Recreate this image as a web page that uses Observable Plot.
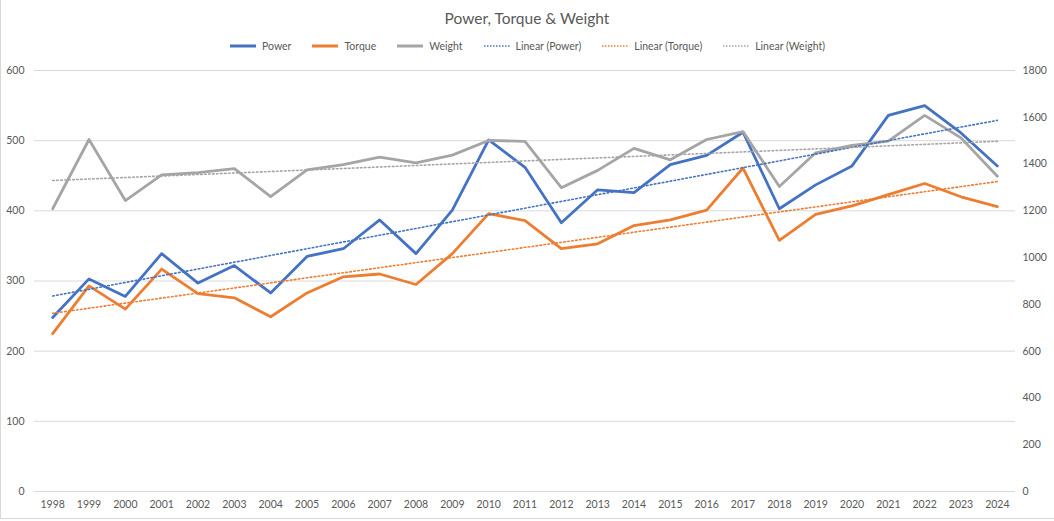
<!DOCTYPE html>
<html>
<head>
<meta charset="utf-8">
<script src="https://cdn.jsdelivr.net/npm/d3@7"></script>
<script src="https://cdn.jsdelivr.net/npm/@observablehq/plot@0.6"></script>
<style>
  html, body { margin: 0; padding: 0; background: #fff; }
  #wrap { position: relative; width: 1054px; height: 521px; overflow: hidden; font-family: Lato, "Open Sans", sans-serif; color: #595959; }
  #frame { position: absolute; left: 0; top: 0; width: 1054px; height: 519px; border-left: 1px solid #D9D9D9; border-bottom: 1px solid #D9D9D9; box-sizing: border-box; pointer-events: none; }
  #title { height: 36px; line-height: 36px; text-align: center; font-size: 15.5px; color: #595959; }
  #legend { height: 20px; display: flex; justify-content: center; align-items: center; font-size: 10.5px; color: #595959; }
  .item { display: flex; align-items: center; margin: 0 10px; }
  .item svg { margin-right: 5px; }
  #chart svg { display: block; }
</style>
</head>
<body>
<div id="wrap">
  <div id="title">Power, Torque &amp; Weight</div>
  <div id="legend"></div>
  <div id="chart"></div>
  <div id="frame"></div>
</div>
<script>
const years  = [1998,1999,2000,2001,2002,2003,2004,2005,2006,2007,2008,2009,2010,2011,2012,2013,2014,2015,2016,2017,2018,2019,2020,2021,2022,2023,2024];
const power  = [248,303,278,339,297,322,283,335,346,387,339,401,501,462,383,430,426,466,479,512,403,437,464,536,550,511,464];
const torque = [225,293,260,317,282,276,249,283,306,310,295,339,396,386,346,353,379,387,401,461,358,395,407,423,439,420,406];
const weight = [1209,1505,1244,1354,1363,1380,1261,1375,1398,1430,1405,1438,1501,1497,1299,1373,1467,1418,1505,1539,1304,1448,1480,1498,1608,1512,1348];
const leftTicks  = [0,100,200,300,400,500,600];
const rightTicks = [0,200,400,600,800,1000,1200,1400,1600,1800];

const colors = {power: "#4472C4", torque: "#ED7D31", weight: "#A5A5A5"};
const series = [
  {name: "Power", color: colors.power, dotted: false},
  {name: "Torque", color: colors.torque, dotted: false},
  {name: "Weight", color: colors.weight, dotted: false},
  {name: "Linear (Power)", color: colors.power, dotted: true},
  {name: "Linear (Torque)", color: colors.torque, dotted: true},
  {name: "Linear (Weight)", color: colors.weight, dotted: true}
];

const legend = document.getElementById("legend");
for (const s of series) {
  const item = document.createElement("div");
  item.className = "item";
  item.innerHTML = `<svg width="28" height="6"><line x1="1" x2="27" y1="3" y2="3" stroke="${s.color}" stroke-width="${s.dotted ? 1.5 : 3}" ${s.dotted ? 'stroke-dasharray="1.5,1.5"' : ''}/></svg><span>${s.name}</span>`;
  legend.appendChild(item);
}

const data = years.map((year, i) => ({year, power: power[i], torque: torque[i], weight: weight[i]}));
const ratio = 3; // right axis max 1800 vs left 600

const chart = Plot.plot({
  width: 1054,
  height: 463,
  marginLeft: 34,
  marginRight: 39,
  marginTop: 14,
  marginBottom: 28,
  style: {fontFamily: "Lato, 'Open Sans', sans-serif", fontSize: "10.5px", color: "#595959", background: "transparent"},
  x: {domain: [1997.5, 2024.5]},
  y: {domain: [0, 600]},
  marks: [
    Plot.gridY(leftTicks, {stroke: "#D9D9D9", strokeOpacity: 1, strokeWidth: 1}),
    Plot.axisY(leftTicks, {anchor: "left", tickSize: 0, tickPadding: 10, label: null, fill: "#595959"}),
    Plot.axisY(rightTicks.map(d => d / ratio), {anchor: "right", tickSize: 0, tickPadding: 7, label: null, fill: "#595959", textAnchor: "start", tickFormat: d => String(Math.round(d * ratio))}),
    Plot.axisX(years, {tickSize: 0, tickPadding: 9, label: null, fill: "#595959", tickFormat: d => String(d)}),
    Plot.lineY(data, {x: "year", y: "power", stroke: colors.power, strokeWidth: 2.8}),
    Plot.lineY(data, {x: "year", y: "torque", stroke: colors.torque, strokeWidth: 2.8}),
    Plot.lineY(data, {x: "year", y: d => d.weight / ratio, stroke: colors.weight, strokeWidth: 2.8}),
    Plot.linearRegressionY(data, {x: "year", y: "power", stroke: colors.power, ci: 0, strokeWidth: 1.6, strokeDasharray: "1.6,2.4"}),
    Plot.linearRegressionY(data, {x: "year", y: "torque", stroke: colors.torque, ci: 0, strokeWidth: 1.6, strokeDasharray: "1.6,2.4"}),
    Plot.linearRegressionY(data, {x: "year", y: d => d.weight / ratio, stroke: colors.weight, ci: 0, strokeWidth: 1.6, strokeDasharray: "1.6,2.4"})
  ]
});
document.getElementById("chart").appendChild(chart);
</script>
</body>
</html>
